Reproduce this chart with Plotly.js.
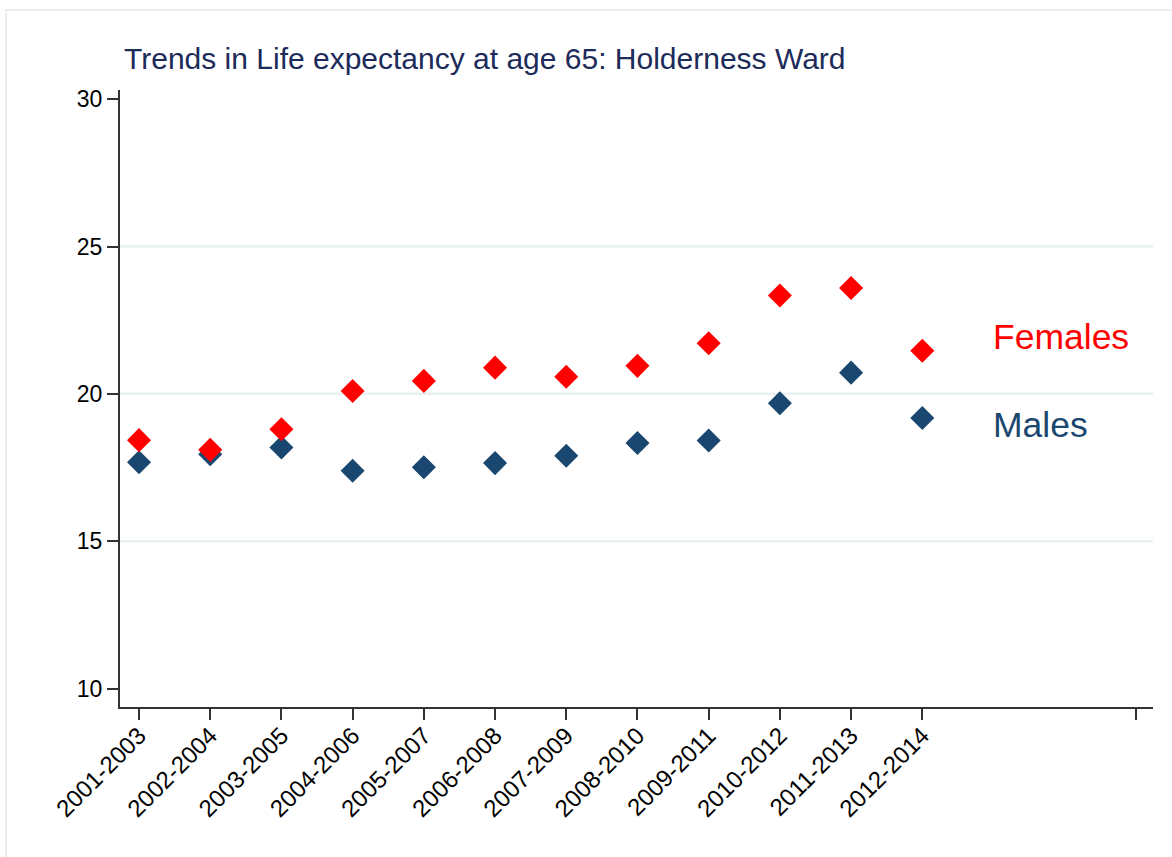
<!DOCTYPE html>
<html>
<head>
<meta charset="utf-8">
<script src="https://cdn.plot.ly/plotly-3.0.1.min.js"></script>
<style>
  html, body { margin: 0; padding: 0; background: #ffffff; }
  #chart { width: 1172px; height: 857px; }
</style>
</head>
<body>
<div id="chart"></div>
<script>
// ---- data ----
const periods = ["2001-2003","2002-2004","2003-2005","2004-2006","2005-2007","2006-2008",
                 "2007-2009","2008-2010","2009-2011","2010-2012","2011-2013","2012-2014"];
const females = [18.43, 18.10, 18.80, 20.10, 20.44, 20.89, 20.58, 20.95, 21.72, 23.34, 23.59, 21.46];
const males   = [17.68, 17.95, 18.18, 17.39, 17.51, 17.65, 17.90, 18.33, 18.42, 19.68, 20.72, 19.18];
const yTicks  = [10, 15, 20, 25, 30];
const gridValues = [15, 20, 25];
const extraTickPos = 14;           // unlabelled tick at the far right of the x axis
const seriesNames = ["Females", "Males"];
const labelY = [21.93, 18.95];
const labelX = 11.97;

const idx = periods.map((_, i) => i);
const xTickVals = idx.concat([extraTickPos]);
const xTickText = periods.concat([""]);

const red = "#ff0000";
const navy = "#1a476f";

const traces = [
  { x: idx, y: males, type: "scatter", mode: "markers", name: seriesNames[1],
    marker: { symbol: "diamond", size: 18.5, color: navy }, hoverinfo: "x+y" },
  { x: idx, y: females, type: "scatter", mode: "markers", name: seriesNames[0],
    marker: { symbol: "diamond", size: 18.5, color: red }, hoverinfo: "x+y" }
];

const shapes = gridValues.map(v => ({
  type: "line", xref: "paper", yref: "y", x0: 0, x1: 1, y0: v, y1: v,
  line: { color: "#eaf0f2", width: 2.5 }, layer: "below"
}));
// outer light frame
shapes.push({
  type: "rect", xref: "paper", yref: "paper",
  x0: -0.1104, x1: 1.2, y0: -0.4, y1: 1.1297,
  line: { color: "#e9eff1", width: 2 }, layer: "below"
});

const layout = {
  width: 1172, height: 857,
  margin: { l: 120, r: 19, t: 90, b: 150 },
  paper_bgcolor: "#ffffff", plot_bgcolor: "#ffffff",
  showlegend: false,
  font: { family: "Liberation Sans, Arial, sans-serif", color: "#000000" },
  title: {
    text: "Trends in Life expectancy at age 65: Holderness Ward",
    font: { size: 30, color: "#1c2b59", family: "Liberation Sans, Arial, sans-serif" },
    xref: "container", x: 124 / 1172, xanchor: "left",
    yref: "container", y: 1 - 58 / 857, yanchor: "middle"
  },
  xaxis: {
    range: [-0.267, 14.24],
    tickmode: "array", tickvals: xTickVals, ticktext: xTickText,
    tickangle: -45, ticks: "outside", ticklen: 11, tickwidth: 1.5, tickcolor: "#333333",
    ticklabelstandoff: -8,
    showline: true, linecolor: "#333333", linewidth: 2,
    showgrid: false, zeroline: false,
    tickfont: { size: 24, color: "#000000" }
  },
  yaxis: {
    range: [9.375, 30.31],
    tickmode: "array", tickvals: yTicks,
    ticks: "outside", ticklen: 11, tickwidth: 1.5, tickcolor: "#333333",
    showline: true, linecolor: "#333333", linewidth: 2,
    showgrid: false, zeroline: false,
    tickfont: { size: 23, color: "#000000" }
  },
  shapes: shapes,
  annotations: [
    { x: labelX, y: labelY[0], xref: "x", yref: "y", text: seriesNames[0], showarrow: false,
      xanchor: "left", yanchor: "middle", font: { size: 35.5, color: red } },
    { x: labelX, y: labelY[1], xref: "x", yref: "y", text: seriesNames[1], showarrow: false,
      xanchor: "left", yanchor: "middle", font: { size: 35.5, color: navy } }
  ]
};

Plotly.newPlot("chart", traces, layout, { displayModeBar: false, responsive: false });
</script>
</body>
</html>
